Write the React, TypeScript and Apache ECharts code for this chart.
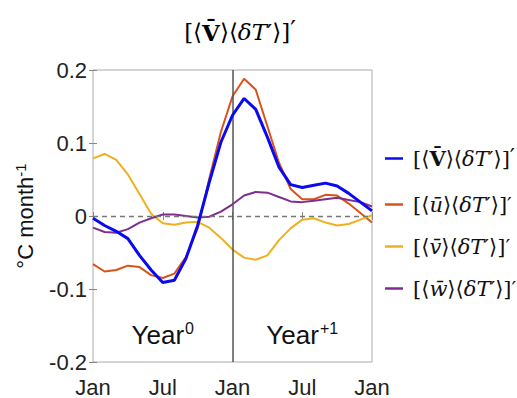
import React, { useEffect, useRef } from "react";
import * as echarts from "echarts";

const xTickLabels = ["Jan", "Jul", "Jan", "Jul", "Jan"];
const seriesKeys = ["V", "u", "v", "w"];
const seriesColors = ["#0a0af0", "#d95319", "#edb120", "#7e2f8e"];
const vTotal = [-0.003, -0.013, -0.021, -0.031, -0.054, -0.074, -0.091, -0.088, -0.058, -0.013, 0.046, 0.101, 0.138, 0.161, 0.146, 0.108, 0.067, 0.043, 0.039, 0.042, 0.045, 0.041, 0.031, 0.019, 0.007];
const uTerm = [-0.066, -0.076, -0.074, -0.068, -0.070, -0.081, -0.085, -0.079, -0.056, -0.017, 0.051, 0.115, 0.164, 0.188, 0.173, 0.123, 0.073, 0.037, 0.023, 0.023, 0.029, 0.028, 0.017, 0.004, -0.009];
const vTerm = [0.079, 0.085, 0.077, 0.057, 0.030, 0.003, -0.010, -0.012, -0.009, -0.008, -0.016, -0.030, -0.046, -0.057, -0.060, -0.054, -0.033, -0.017, -0.005, -0.003, -0.009, -0.013, -0.011, -0.005, 0.001];
const wTerm = [-0.016, -0.022, -0.023, -0.018, -0.009, -0.003, 0.002, 0.002, 0, -0.002, -0.001, 0.006, 0.016, 0.028, 0.033, 0.032, 0.026, 0.020, 0.019, 0.021, 0.023, 0.025, 0.022, 0.019, 0.013];
const yearLabels = [
  { x: 6, y: -0.163, base: "Year", sup: "0" },
  { x: 18, y: -0.163, base: "Year", sup: "+1" },
];
const legendTexts: Record<string, string> = {
  V: "{n|[⟨}{b|V\u0304}{n|⟩⟨}{i|δT}{n|′⟩]}{p|′}",
  u: "{n|[⟨}{i|ū}{n|⟩⟨}{i|δT}{n|′⟩]′}",
  v: "{n|[⟨}{i|v\u0304}{n|⟩⟨}{i|δT}{n|′⟩]′}",
  w: "{n|[⟨}{i|w\u0304}{n|⟩⟨}{i|δT}{n|′⟩]′}",
};

const serif = "'DejaVu Serif', 'Liberation Serif', serif";
const sans = "'Liberation Sans', Arial, sans-serif";

export default function App() {
  const ref = useRef<HTMLDivElement>(null);
  useEffect(() => {
    if (!ref.current) return;
    const chart = echarts.init(ref.current, undefined, { renderer: "svg" });
    const allData = [vTotal, uTerm, vTerm, wTerm];
    const mathRich = (size: number) => ({
      n: { fontFamily: serif, fontSize: size, color: "#111", lineHeight: size + 4 },
      b: { fontFamily: serif, fontSize: size, fontWeight: "bold", color: "#111", lineHeight: size + 4 },
      i: { fontFamily: serif, fontSize: size, fontStyle: "italic", color: "#111", lineHeight: size + 4 },
      p: { fontFamily: serif, fontSize: size + 2, color: "#111", lineHeight: size + 4, padding: [0, 0, 6, 0] },
    });
    const series: any[] = seriesKeys.map((k, si) => ({
      name: k,
      type: "line",
      data: allData[si].map((v, i) => [i, v]),
      showSymbol: false,
      symbol: "none",
      z: si === 0 ? 5 : 3,
      lineStyle: { color: seriesColors[si], width: si === 0 ? 3 : 2 },
      itemStyle: { color: seriesColors[si] },
    }));
    series[0].markLine = {
      silent: true,
      symbol: "none",
      label: { show: false },
      data: [
        { yAxis: 0, lineStyle: { color: "#777", type: [5, 4], width: 1.3 } },
        { xAxis: 12, lineStyle: { color: "#555", type: "solid", width: 1.5 } },
      ],
    };
    series[0].markPoint = {
      silent: true,
      symbol: "circle",
      symbolSize: 2,
      itemStyle: { color: "rgba(0,0,0,0)" },
      data: yearLabels.map((y) => ({
        coord: [y.x, y.y],
        label: {
          show: true,
          position: "inside",
          formatter: `{b|${y.base}}{s|${y.sup}}`,
          rich: {
            b: { fontFamily: sans, fontSize: 26, color: "#111", lineHeight: 30 },
            s: { fontFamily: sans, fontSize: 16, color: "#111", lineHeight: 30, padding: [0, 0, 12, 1] },
          },
        },
      })),
    };
    chart.setOption({
      animation: false,
      backgroundColor: "#fff",
      grid: {
        left: 93,
        right: 145,
        top: 70,
        bottom: 35,
        show: true,
        borderColor: "#aaa",
        borderWidth: 1,
      },
      graphic: [
        {
          type: "text",
          x: 240,
          y: 32,
          style: {
            text: "{n|[⟨}{b|V\u0304}{n|⟩⟨}{i|δT}{n|′⟩]}{p|′}",
            rich: mathRich(23) as any,
            align: "center",
            verticalAlign: "middle",
          },
        },
      ],
      legend: {
        orient: "vertical",
        left: 380,
        top: 139,
        itemWidth: 18,
        itemHeight: 2.5,
        itemGap: 21,
        icon: "rect",
        data: seriesKeys,
        formatter: (name: string) => legendTexts[name],
        textStyle: { rich: mathRich(21) as any, padding: [0, 0, 0, 5] },
      },
      xAxis: [
        {
          type: "value",
          min: 0,
          max: 24,
          interval: 6,
          axisLine: { show: false },
          axisTick: { show: true, inside: true, length: 4, lineStyle: { color: "#888" } },
          splitLine: { show: false },
          axisLabel: {
            formatter: (v: number) => xTickLabels[v / 6],
            fontFamily: sans,
            fontSize: 22,
            color: "#222",
            margin: 14,
          },
        },
        {
          type: "value",
          position: "top",
          min: 0,
          max: 24,
          interval: 6,
          axisLine: { show: false },
          axisTick: { show: true, inside: true, length: 4, lineStyle: { color: "#888" } },
          splitLine: { show: false },
          axisLabel: { show: false },
        },
      ],
      yAxis: [
        {
          type: "value",
          min: -0.2,
          max: 0.2,
          interval: 0.1,
          axisLine: { show: false },
          axisTick: { show: true, inside: true, length: 4, lineStyle: { color: "#888" } },
          splitLine: { show: false },
          axisLabel: { fontFamily: sans, fontSize: 22, color: "#222", margin: 6 },
          name: "{a|°C month}{s|-1}",
          nameLocation: "middle",
          nameRotate: 90,
          nameGap: 48,
          nameTextStyle: {
            rich: {
              a: { fontFamily: sans, fontSize: 22, color: "#111", lineHeight: 26 },
              s: { fontFamily: sans, fontSize: 15, color: "#111", lineHeight: 26, padding: [0, 0, 10, 0] },
            },
          },
        },
        {
          type: "value",
          position: "right",
          min: -0.2,
          max: 0.2,
          interval: 0.1,
          axisLine: { show: false },
          axisTick: { show: true, inside: true, length: 4, lineStyle: { color: "#888" } },
          splitLine: { show: false },
          axisLabel: { show: false },
        },
      ],
      series,
    });
    return () => chart.dispose();
  }, []);
  return <div ref={ref} style={{ width: 517, height: 398, position: "absolute", left: 0, top: 0 }} />;
}
